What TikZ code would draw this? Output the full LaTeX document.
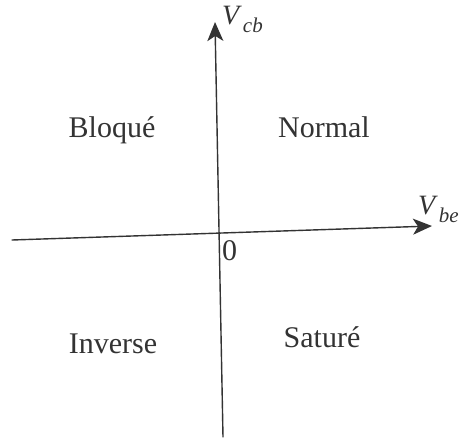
\documentclass[tikz,border=0pt]{standalone}
\usepackage{fontspec}
\setmainfont{Liberation Serif}
\usetikzlibrary{arrows.meta}
\tikzset{
  axis/.style={line width=1.4pt, draw=black!80,
    -{Stealth[length=19pt,width=16pt,inset=5pt]}},
  region/.style={font=\fontsize{30}{36}\selectfont, text=black!80,
    inner sep=0pt, anchor=base},
  axislabel/.style={font=\fontsize{28}{34}\selectfont, text=black!80,
    inner sep=0pt, anchor=base west},
}
\newcommand{\tension}[2]{\textit{#1}\kern1pt\raisebox{-8pt}{\fontsize{21}{21}\selectfont\textit{#2}}}

\begin{document}
\begin{tikzpicture}[x=1pt,y=-1pt,line cap=round]
  \useasboundingbox (0,0) rectangle (459,439);
  % axes, slightly tilted as in the scan
  \coordinate (west) at (12,240);
  \coordinate (east) at (432,226);
  \coordinate (south) at (223,437);
  \coordinate (north) at (215,22);
  \draw[axis] (west) -- (east);
  \draw[axis] (south) -- (north);
  % axis labels and origin
  \node[axislabel] (vcb) at (222,24) {\tension{V}{cb}};
  \node[axislabel] (vbe) at (418,214) {\tension{V}{be}};
  \node[region, anchor=base west] (zero) at (222,260) {0};
  % the four regions
  \node[region] (bloque) at (112,137) {Bloqué};
  \node[region] (normal) at (324,137) {Normal};
  \node[region] (inverse) at (113,353) {Inverse};
  \node[region] (sature) at (322,347) {Saturé};
\end{tikzpicture}
\end{document}
